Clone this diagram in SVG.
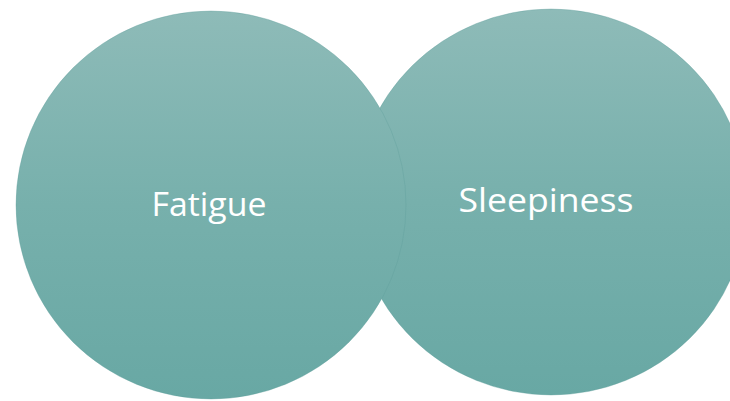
<svg xmlns="http://www.w3.org/2000/svg" width="730" height="401" viewBox="0 0 730 401">
  <defs>
    <linearGradient id="tealFill" x1="0" y1="0" x2="0" y2="1">
      <stop offset="0" stop-color="#8ebbb8"/>
      <stop offset="0.5" stop-color="#77b0ac"/>
      <stop offset="1" stop-color="#68a8a4"/>
    </linearGradient>
  </defs>
  <style>
    .bubble { fill: url(#tealFill); stroke: #5f9e9a; stroke-opacity: 0.35; stroke-width: 1; }
    .label { font-family: "Open Sans", "Noto Sans", sans-serif; font-size: 32px; fill: #ffffff; text-anchor: middle; }
  </style>
  <rect width="730" height="401" fill="#ffffff"/>
  <g id="connectors"/>
  <g id="sleepiness">
    <ellipse class="bubble" cx="551" cy="202" rx="196" ry="193"/>
    <text class="label" x="546" y="212" textLength="175" lengthAdjust="spacingAndGlyphs">Sleepiness</text>
  </g>
  <g id="fatigue">
    <ellipse class="bubble" cx="211" cy="205" rx="195" ry="194"/>
    <text class="label" x="209" y="216" textLength="115" lengthAdjust="spacingAndGlyphs">Fatigue</text>
  </g>
</svg>
